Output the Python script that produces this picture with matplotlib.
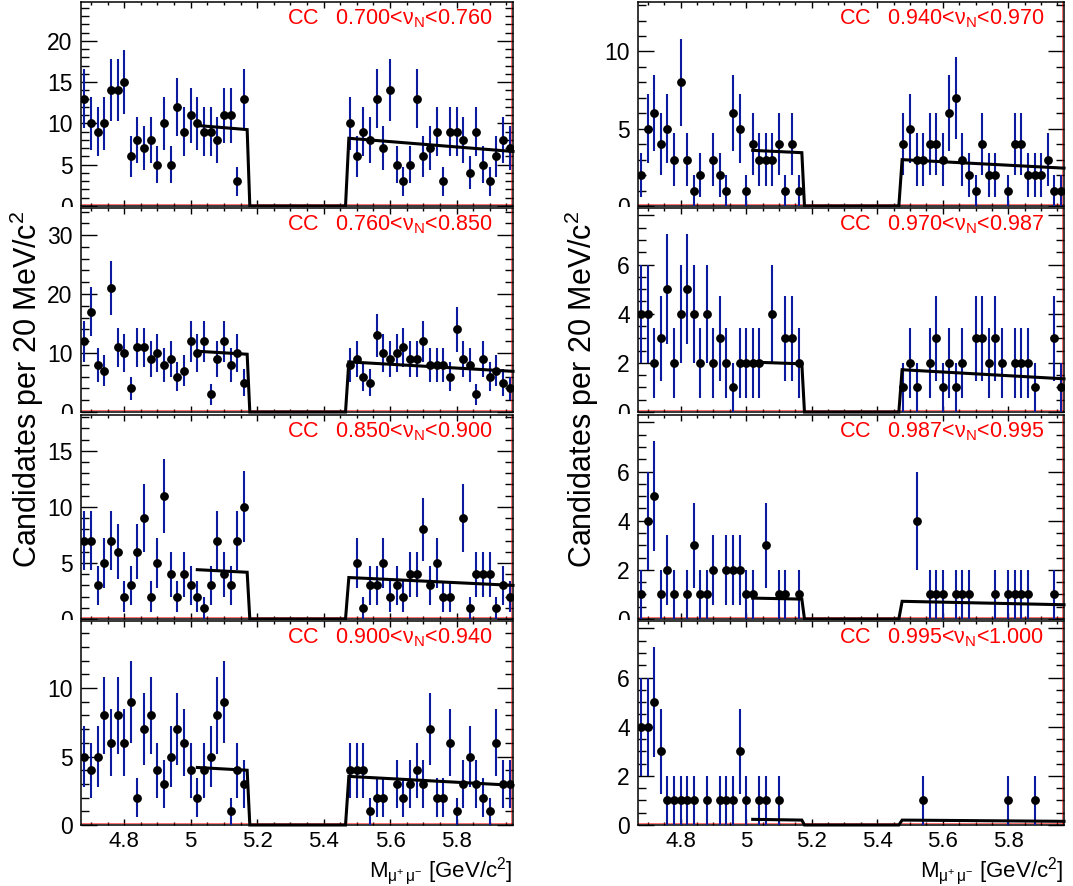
"""
Sideband mass spectra of B -> mu+ mu- candidates in bins of the classifier nu_N (CC).
Left/right columns hold the 8 nu_N bins, each panel shows the two mass sidebands
with the blinded signal window in between.
"""

import matplotlib

matplotlib.use("Agg")
import matplotlib.pyplot as plt
import numpy as np
from matplotlib.patches import Rectangle
from matplotlib.ticker import FuncFormatter, MultipleLocator
from matplotlib.transforms import ScaledTranslation

plt.rcParams["font.family"] = ["Liberation Sans", "DejaVu Sans"]
plt.rcParams["mathtext.fontset"] = "custom"
plt.rcParams["mathtext.rm"] = "Liberation Sans"
plt.rcParams["mathtext.it"] = "Liberation Sans:italic"
plt.rcParams["mathtext.bf"] = "Liberation Sans:bold"
plt.rcParams["axes.linewidth"] = 1.1

# ---- data -------------------------------------------------------------------
NU_LOW = ["0.700", "0.760", "0.850", "0.900", "0.940", "0.970", "0.987", "0.995"]
NU_HIGH = ["0.760", "0.850", "0.900", "0.940", "0.970", "0.987", "0.995", "1.000"]

# 20 MeV bins, lower sideband 4.67-5.17, upper sideband 5.47-5.97 GeV
BIN_W = 0.02
LOW_SB_START = 4.67
HIGH_SB_START = 5.47
N_BINS_SB = 25

low_sb_0 = [13, 10, 9, 10, 14, 14, 15, 6, 8, 7, 8, 5, 10, 5, 12, 9, 11, 10, 9, 9, 8, 11, 11, 3, 13]
high_sb_0 = [10, 6, 9, 8, 13, 7, 14, 5, 3, 5, 13, 6, 7, 9, 3, 9, 9, 8, 4, 9, 5, 3, 6, 8, 7]
low_sb_1 = [12, 17, 8, 7, 21, 11, 10, 4, 11, 11, 9, 10, 8, 9, 6, 7, 12, 10, 12, 3, 9, 12, 8, 10, 5]
high_sb_1 = [8, 9, 6, 5, 13, 10, 9, 10, 11, 9, 9, 12, 8, 8, 8, 6, 14, 9, 8, 3, 9, 6, 7, 5, 4]
low_sb_2 = [7, 7, 3, 5, 7, 6, 2, 3, 6, 9, 2, 5, 11, 4, 2, 4, 3, 2, 1, 3, 7, 4, 3, 7, 10]
high_sb_2 = [0, 5, 1, 3, 3, 5, 2, 3, 2, 4, 4, 8, 3, 5, 2, 2, 0, 9, 1, 4, 4, 4, 1, 3, 2]
low_sb_3 = [5, 4, 5, 8, 6, 8, 6, 9, 2, 7, 8, 4, 3, 5, 7, 6, 4, 2, 4, 5, 8, 9, 1, 4, 3]
high_sb_3 = [4, 4, 4, 1, 2, 2, 0, 3, 2, 3, 4, 3, 7, 2, 2, 6, 1, 3, 5, 3, 2, 1, 6, 3, 3]
low_sb_4 = [2, 5, 6, 4, 5, 3, 8, 3, 1, 2, 0, 3, 2, 1, 6, 5, 1, 4, 3, 3, 3, 4, 1, 4, 1]
high_sb_4 = [4, 5, 3, 3, 4, 4, 3, 6, 7, 3, 2, 1, 4, 2, 2, 0, 1, 4, 4, 2, 2, 2, 3, 1, 1]
low_sb_5 = [4, 4, 2, 3, 5, 2, 4, 5, 4, 2, 4, 2, 3, 2, 1, 2, 2, 2, 2, 0, 4, 0, 3, 3, 2]
high_sb_5 = [1, 2, 1, 0, 2, 3, 1, 2, 1, 2, 0, 3, 3, 2, 3, 2, 0, 2, 2, 2, 1, 0, 0, 3, 1]
low_sb_6 = [1, 4, 5, 1, 2, 1, 0, 1, 3, 1, 1, 2, 0, 2, 2, 2, 1, 1, 0, 3, 0, 1, 1, 0, 1]
high_sb_6 = [0, 0, 4, 0, 1, 1, 1, 0, 1, 1, 1, 0, 0, 0, 1, 0, 1, 1, 1, 1, 0, 0, 0, 1, 0]
low_sb_7 = [4, 4, 5, 3, 1, 1, 1, 1, 1, 0, 1, 0, 1, 1, 1, 3, 1, 0, 1, 1, 0, 1, 0, 0, 0]
high_sb_7 = [0, 0, 0, 1, 0, 0, 0, 0, 0, 0, 0, 0, 0, 0, 0, 0, 1, 0, 0, 0, 1, 0, 0, 0, 0]

LOW_SB = [low_sb_0, low_sb_1, low_sb_2, low_sb_3, low_sb_4, low_sb_5, low_sb_6, low_sb_7]
HIGH_SB = [high_sb_0, high_sb_1, high_sb_2, high_sb_3, high_sb_4, high_sb_5, high_sb_6, high_sb_7]

# background fit: defined from 5.02 GeV, zero inside the blinded window
FIT_MASS = [5.02, 5.17, 5.178, 5.466, 5.476, 5.97]
fit_low_start = [9.75, 10.3, 4.4, 4.2, 3.6, 2.03, 0.85, 0.23]
fit_low_end = [9.25, 9.8, 4.17, 4.0, 3.45, 1.96, 0.81, 0.20]
fit_high_start = [8.2, 8.5, 3.7, 3.55, 3.0, 1.72, 0.72, 0.20]
fit_high_end = [6.6, 6.9, 3.0, 2.9, 2.45, 1.35, 0.58, 0.15]

Y_MAX = [24.7, 34.6, 18.2, 14.9, 13.2, 8.3, 8.3, 8.3]
Y_MAJOR = [5, 10, 5, 5, 5, 2, 2, 2]
Y_MINOR = [1, 2, 1, 1, 1, 0.5, 0.5, 0.5]

# ---- layout (pixels of the 1073x886 canvas) ------------------------------------
FIG_W, FIG_H = 1073, 886
COL_X = [81, 638]
COL_W = [432, 426]
ROW_TOP = [2, 208, 415, 621]
ROW_H = 204
ERR_BLUE = "#0b1a9e"
fmt_g = FuncFormatter(lambda v, _: f"{v:g}")


def y_formatter(ymax):
    # ROOT leaves out the label that would sit right on the upper frame edge
    return FuncFormatter(lambda v, _: "" if v > 0.95 * ymax else f"{v:g}")


fig = plt.figure(figsize=(FIG_W / 100, FIG_H / 100), dpi=100)

for idx in range(8):
    col, row = divmod(idx, 4)
    top = ROW_TOP[row]
    bottom_frac = 1 - (top + ROW_H) / FIG_H

    # white pad behind each panel so labels of the pad above get cut, as in ROOT
    if row > 0:
        pad_top = 1 - (top - 1) / FIG_H
        pad_bot = 0 if row == 3 else 1 - (top + ROW_H + 1) / FIG_H
        pad_x = 0 if col == 0 else 0.53
        fig.add_artist(Rectangle((pad_x, pad_bot), 0.53 if col == 0 else 0.47, pad_top - pad_bot,
                                 transform=fig.transFigure, facecolor="white",
                                 edgecolor="none", zorder=2 * row))

    ax = fig.add_axes([COL_X[col] / FIG_W, bottom_frac, COL_W[col] / FIG_W, ROW_H / FIG_H],
                      zorder=2 * row + 1)

    low = np.array(LOW_SB[idx], dtype=float)
    high = np.array(HIGH_SB[idx], dtype=float)
    mass_low = LOW_SB_START + BIN_W * (np.arange(N_BINS_SB) + 0.5)
    mass_high = HIGH_SB_START + BIN_W * (np.arange(N_BINS_SB) + 0.5)
    mass = np.concatenate([mass_low, mass_high])
    counts = np.concatenate([low, high])
    filled = counts > 0

    ax.errorbar(mass[filled], counts[filled], yerr=np.sqrt(counts[filled]), fmt="o",
                color="black", ms=5.3, ecolor=ERR_BLUE, elinewidth=1.5, capsize=0,
                zorder=3)

    fit_vals = [fit_low_start[idx], fit_low_end[idx], 0, 0, fit_high_start[idx], fit_high_end[idx]]
    ax.plot(FIT_MASS, fit_vals, color="black", lw=2.2, clip_on=False, zorder=4,
            solid_joinstyle="miter")

    # thin red lines along the bottom and right edge of the frame
    shift_up = ax.transAxes + ScaledTranslation(0, 1.3 / 72, fig.dpi_scale_trans)
    shift_left = ax.transAxes + ScaledTranslation(-1.3 / 72, 0, fig.dpi_scale_trans)
    ax.plot([0, 1], [0, 0], transform=shift_up, color="red", lw=0.5, alpha=0.8, zorder=2)
    ax.plot([1, 1], [0, 1], transform=shift_left, color="red", lw=0.5, alpha=0.8, zorder=2)

    ax.set_xlim(4.67, 5.97)
    ax.set_ylim(0, Y_MAX[idx])
    ax.xaxis.set_major_locator(MultipleLocator(0.2))
    ax.xaxis.set_minor_locator(MultipleLocator(0.05))
    ax.yaxis.set_major_locator(MultipleLocator(Y_MAJOR[idx]))
    ax.yaxis.set_minor_locator(MultipleLocator(Y_MINOR[idx]))
    ax.xaxis.set_major_formatter(fmt_g)
    ax.yaxis.set_major_formatter(y_formatter(Y_MAX[idx]))

    ax.tick_params(which="both", direction="in", top=True, right=True, width=1.0,
                   labelsize=16.5, pad=6)
    ax.tick_params(axis="x", which="both", labelsize=16, pad=4)
    ax.tick_params(axis="y", which="major", length=11.5)
    ax.tick_params(axis="y", which="minor", length=5.8)
    ax.tick_params(axis="x", which="major", length=4.5)
    ax.tick_params(axis="x", which="minor", length=2.3)
    if row < 3:
        ax.tick_params(labelbottom=False)

    ax.text(0.953, 0.892, rf"CC   {NU_LOW[idx]}<$\mathrm{{ν}}_{{\mathrm{{N}}}}$<{NU_HIGH[idx]}",
            color="red", fontsize=15.5, ha="right", va="baseline", transform=ax.transAxes,
            zorder=5)

    if row == 3:
        fig.text((COL_X[col] + COL_W[col]) / FIG_W, 1 - 877 / FIG_H,
                 r"M$_{\mathrm{μ^{+}\,μ^{-}}}$ [GeV/c$^{2}$]", fontsize=16,
                 ha="right", va="baseline", zorder=20)

for x_px in (37, 592):
    fig.text(x_px / FIG_W, 1 - 389 / FIG_H, "Candidates per 20 MeV/c$^{2}$", fontsize=22,
             rotation=90, rotation_mode="anchor", ha="center", va="baseline", zorder=20)

fig.savefig("out.png", dpi=100)
